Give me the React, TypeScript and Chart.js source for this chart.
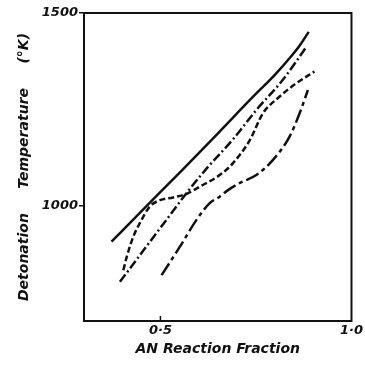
import React, { useEffect, useRef } from "react";
import { Chart, registerables } from "chart.js";

Chart.register(...registerables);

// AN reaction fraction (x) vs detonation temperature (°K)
const solidX = [0.372, 0.45, 0.555, 0.65, 0.74, 0.8, 0.84, 0.864, 0.888];
const solidY = [906, 985, 1090, 1187, 1280, 1340, 1385, 1415, 1451];

const dashDotX = [0.394, 0.429, 0.472, 0.525, 0.568, 0.62, 0.69, 0.751, 0.82, 0.882];
const dashDotY = [802, 848, 905, 975, 1032, 1095, 1172, 1248, 1326, 1412];

const dashedX = [0.403, 0.412, 0.429, 0.446, 0.472, 0.499, 0.533, 0.568, 0.603, 0.655, 0.69, 0.734, 0.768, 0.812, 0.855, 0.903];
const dashedY = [832, 867, 919, 954, 997, 1014, 1021, 1030, 1049, 1079, 1110, 1170, 1239, 1283, 1317, 1348];

const longDashX = [0.503, 0.551, 0.594, 0.629, 0.655, 0.677, 0.707, 0.751, 0.794, 0.838, 0.864, 0.886];
const longDashY = [819, 893, 962, 1006, 1023, 1040, 1058, 1079, 1118, 1179, 1239, 1300];

const xTicks = [0.5, 1.0];
const xTickLabels = ["0·5", "1·0"];
const yTicks = [1000, 1500];
const yTickLabels = ["1000", "1500"];

const xTitle = "AN Reaction Fraction";
const yTitle = "Detonation     Temperature     (°K)";

const ink = "#111111";

function pts(xs: number[], ys: number[]) {
  return xs.map((x, i) => ({ x, y: ys[i] }));
}

const framePlugin = {
  id: "frame",
  afterDraw(chart: any) {
    const { ctx, chartArea } = chart;
    const xs = chart.scales.x;
    ctx.save();
    ctx.strokeStyle = ink;
    ctx.lineWidth = 2;
    ctx.strokeRect(chartArea.left, chartArea.top, chartArea.right - chartArea.left, chartArea.bottom - chartArea.top);
    // inward tick at 0.5 on bottom axis
    const px = xs.getPixelForValue(xTicks[0]);
    ctx.lineWidth = 1.5;
    ctx.beginPath();
    ctx.moveTo(px, chartArea.bottom);
    ctx.lineTo(px, chartArea.bottom - 5);
    ctx.stroke();
    ctx.restore();
  },
};

export default function App() {
  const ref = useRef<HTMLCanvasElement>(null);
  useEffect(() => {
    if (!ref.current) return;
    const common = {
      borderColor: ink,
      borderWidth: 2.5,
      pointRadius: 0,
      fill: false,
      tension: 0.4,
      cubicInterpolationMode: "monotone" as const,
      borderCapStyle: "butt" as const,
    };
    const tickFont = { family: "DejaVu Sans", size: 13, style: "italic" as const, weight: "bold" as const };
    const titleFont = { family: "DejaVu Sans", size: 14, style: "italic" as const, weight: "bold" as const };
    const chart = new Chart(ref.current, {
      type: "line",
      data: {
        datasets: [
          { ...common, label: "a", data: pts(solidX, solidY) },
          { ...common, label: "b", data: pts(dashDotX, dashDotY), borderDash: [9, 3, 2, 3] },
          { ...common, label: "c", data: pts(dashedX, dashedY), borderDash: [6, 3] },
          { ...common, label: "d", data: pts(longDashX, longDashY), borderDash: [14, 4, 4, 4] },
        ],
      },
      options: {
        animation: false,
        responsive: false,
        layout: { padding: { top: 13, right: 13, left: 0, bottom: 0 } },
        plugins: { legend: { display: false }, tooltip: { enabled: false } },
        scales: {
          x: {
            type: "linear",
            min: 0.3,
            max: 1.0,
            afterBuildTicks: (s: any) => {
              s.ticks = xTicks.map((v) => ({ value: v }));
            },
            afterFit: (s: any) => {
              s.height = 44;
            },
            ticks: {
              color: ink,
              padding: 2,
              maxRotation: 0,
              autoSkip: false,
              font: tickFont,
              callback: (v: any) => {
                const i = xTicks.indexOf(Number(v));
                return i >= 0 ? xTickLabels[i] : "";
              },
            },
            grid: { display: true, drawOnChartArea: false, drawTicks: false, tickLength: 0 },
            border: { display: false },
            title: {
              display: true,
              text: xTitle,
              color: ink,
              font: titleFont,
              padding: { top: 0, bottom: 7 },
            },
          },
          y: {
            type: "linear",
            min: 700,
            max: 1500,
            afterBuildTicks: (s: any) => {
              s.ticks = yTicks.map((v) => ({ value: v }));
            },
            afterFit: (s: any) => {
              s.width = 84;
            },
            ticks: {
              color: ink,
              padding: 1,
              autoSkip: false,
              font: tickFont,
              callback: (v: any) => {
                const i = yTicks.indexOf(Number(v));
                return i >= 0 ? yTickLabels[i] : "";
              },
            },
            grid: { display: true, drawOnChartArea: false, drawTicks: true, tickLength: 5, color: ink, lineWidth: 1.5 },
            border: { display: false },
            title: {
              display: true,
              text: yTitle,
              color: ink,
              font: titleFont,
              padding: { top: 16, bottom: 0 },
            },
          },
        },
      },
      plugins: [framePlugin],
    });
    return () => chart.destroy();
  }, []);
  return (
    <div style={{ position: "absolute", left: 0, top: 0, width: 365, height: 365, background: "#fff" }}>
      <canvas ref={ref} width={365} height={365} />
    </div>
  );
}
